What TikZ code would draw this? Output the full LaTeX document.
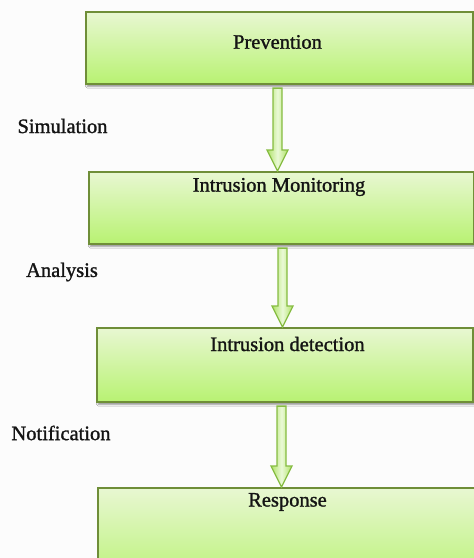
\documentclass[tikz,border=0pt]{standalone}
\usepackage{fontspec}
\setmainfont{Liberation Serif}
\newfontfamily\stagefont[FakeBold=1.3]{Liberation Serif}
\usetikzlibrary{calc,shadows.blur}
\definecolor{paper}{HTML}{FCFCFC}
\definecolor{boxtop}{HTML}{E8F7D2}
\definecolor{boxbot}{HTML}{B8F272}
\definecolor{boxline}{HTML}{6F8E38}
\definecolor{arrline}{HTML}{86BC42}
\definecolor{arredge}{HTML}{AEE266}
\definecolor{arrmid}{HTML}{EAF9D6}
\definecolor{ink}{HTML}{141414}

% block arrow from the bottom of one stage to the top of the next, centred at x=#3
\newcommand\flowarrow[3]{%
  \path[flowshape] let \p1=(#1.south), \p2=(#2.north) in
    ({#3pt-4.5pt},{\y1-3.5pt}) -- ({#3pt+4.5pt},{\y1-3.5pt}) --
    ({#3pt+4.5pt},{\y2+21pt}) -- ({#3pt+10.5pt},{\y2+21pt}) --
    ({#3pt},{\y2}) --
    ({#3pt-10.5pt},{\y2+21pt}) -- ({#3pt-4.5pt},{\y2+21pt}) -- cycle;}

\begin{document}
\begin{tikzpicture}[x=1pt,y=1pt,
  stagebox/.style={draw=boxline, line width=1.6pt, top color=boxtop, bottom color=boxbot,
    inner sep=0pt, anchor=north west,
    blur shadow={shadow xshift=1.5pt, shadow yshift=-2.5pt, shadow blur steps=4,
      shadow blur extra rounding=0pt, shadow opacity=45}},
  stagetext/.style={font=\stagefont\fontsize{20.5}{24}\selectfont, text=ink, inner sep=0pt},
  steplabel/.style={font=\stagefont\fontsize{20.5}{24}\selectfont, text=ink, inner sep=0pt},
  flowshape/.style={draw=arrline, line width=1.3pt, line join=miter,
    left color=arredge, right color=arredge, middle color=arrmid}]

\useasboundingbox (0,0) rectangle (474,-558);
\clip (0,0) rectangle (474,-558);
\fill[paper] (0,0) rectangle (474,-558);

% stages
\node[stagebox, minimum width=387, minimum height=72] (b1) at (85,-11) {};
\node[stagebox, minimum width=385, minimum height=72] (b2) at (88,-171) {};
\node[stagebox, minimum width=376, minimum height=74] (b3) at (96,-327) {};
\node[stagebox, minimum width=400, minimum height=100] (b4) at (97,-487) {};

\node[stagetext] (t1) at (277.5,-42) {Prevention};
\node[stagetext] (t2) at (279,-187) {Intrusion Monitoring};
\node[stagetext] (t3) at (287.5,-344) {Intrusion detection};
\node[stagetext] (t4) at (287.5,-502) {Response};

% transitions
\flowarrow{b1}{b2}{277.5}
\flowarrow{b2}{b3}{282.5}
\flowarrow{b3}{b4}{281.5}

\node[steplabel] (l1) at (62.5,-126) {Simulation};
\node[steplabel] (l2) at (62,-272) {Analysis};
\node[steplabel] (l3) at (61,-433) {Notification};
\end{tikzpicture}
\end{document}
